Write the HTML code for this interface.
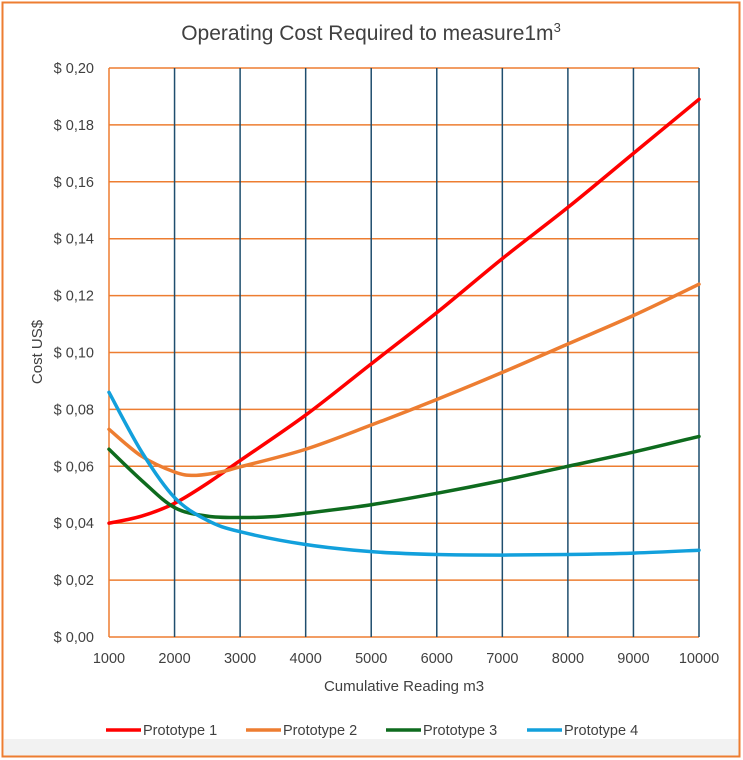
<!DOCTYPE html>
<html><head><meta charset="utf-8"><style>
html,body{margin:0;padding:0;background:#fff;}
svg{display:block;font-family:"Liberation Sans",sans-serif;}
</style></head><body>
<svg id="s" width="743" height="760" viewBox="0 0 743 760">
<rect x="0" y="0" width="743" height="760" fill="#fff"/>
<rect x="4" y="739" width="735" height="17" fill="#f2f2f2"/>
<rect x="2.5" y="2.5" width="737" height="754" fill="none" stroke="#ed7d31" stroke-width="2"/>
<text x="371" y="40" font-size="21" fill="#404040" text-anchor="middle">Operating Cost Required to measure1m<tspan font-size="13" dy="-8">3</tspan></text>
<g id="grid"></g>
<g id="lines" fill="none" stroke-width="3.5" stroke-linejoin="round" stroke-linecap="round"></g>
<text transform="translate(42,352) rotate(-90)" font-size="15" fill="#404040" text-anchor="middle">Cost US$</text>
<text x="404" y="691" font-size="15" fill="#404040" text-anchor="middle">Cumulative Reading m3</text>
<g font-size="14.5" fill="#404040">
<line x1="106" y1="730" x2="141" y2="730" stroke="#ff0000" stroke-width="3.5"/><text x="143" y="735">Prototype 1</text>
<line x1="246" y1="730" x2="281" y2="730" stroke="#ed7d31" stroke-width="3.5"/><text x="283" y="735">Prototype 2</text>
<line x1="386" y1="730" x2="421" y2="730" stroke="#0e6b1e" stroke-width="3.5"/><text x="423" y="735">Prototype 3</text>
<line x1="527" y1="730" x2="562" y2="730" stroke="#12a0dc" stroke-width="3.5"/><text x="564" y="735">Prototype 4</text>
</g>
</svg>
<script>
var L=109,R=699,T=68,B=637,NS="http://www.w3.org/2000/svg";
function X(v){return L+(v-1000)/9000*(R-L);}
function Y(v){return B-v/0.2*(B-T);}
function el(p,t,a,txt){var e=document.createElementNS(NS,t);for(var k in a)e.setAttribute(k,a[k]);if(txt!=null)e.textContent=txt;p.appendChild(e);return e;}
var g=document.getElementById('grid');
for(var i=0;i<=10;i++){var y=Y(i*0.02);el(g,'line',{x1:L,x2:R,y1:y,y2:y,stroke:'#ed7d31','stroke-width':1.5});
el(g,'text',{x:94,y:y+5,'font-size':14.5,fill:'#404040','text-anchor':'end'},'$ 0,'+(i*2<10?'0':'')+(i*2));}
for(var v=2000;v<=10000;v+=1000){var x=X(v);el(g,'line',{x1:x,x2:x,y1:T,y2:B,stroke:'#1f4e6e','stroke-width':1.5});}
el(g,'line',{x1:L,x2:L,y1:T,y2:B,stroke:'#ed7d31','stroke-width':1.5});
for(var v=1000;v<=10000;v+=1000)el(g,'text',{x:X(v),y:663,'font-size':14.5,fill:'#404040','text-anchor':'middle'},v);
var D=[
['#ff0000',[[1000,.040],[1500,.0425],[2000,.047],[2500,.054],[3000,.062],[4000,.078],[5000,.096],[6000,.114],[7000,.133],[8000,.151],[9000,.170],[10000,.189]]],
['#ed7d31',[[1000,.073],[1500,.0635],[2000,.058],[2300,.0568],[2700,.058],[3000,.0598],[4000,.066],[5000,.0745],[6000,.0835],[7000,.093],[8000,.103],[9000,.113],[10000,.124]]],
['#0e6b1e',[[1000,.066],[1500,.055],[2000,.0455],[2500,.0425],[3000,.042],[3500,.0423],[4000,.0435],[5000,.0465],[6000,.0505],[7000,.055],[8000,.060],[9000,.065],[10000,.0705]]],
['#12a0dc',[[1000,.086],[1500,.065],[2000,.049],[2500,.041],[3000,.037],[4000,.0325],[5000,.030],[6000,.029],[7000,.0288],[8000,.029],[9000,.0295],[10000,.0305]]]];
var lg=document.getElementById('lines');
D.forEach(function(s){var p=s[1].map(function(q){return [X(q[0]),Y(q[1])];});
var d='M'+p[0][0]+','+p[0][1];
for(var i=0;i<p.length-1;i++){var p0=p[i-1]||p[i],p1=p[i],p2=p[i+1],p3=p[i+2]||p2;
d+=' C'+(p1[0]+(p2[0]-p0[0])/6)+','+(p1[1]+(p2[1]-p0[1])/6)+' '+(p2[0]-(p3[0]-p1[0])/6)+','+(p2[1]-(p3[1]-p1[1])/6)+' '+p2[0]+','+p2[1];}
el(lg,'path',{d:d,stroke:s[0]});});
</script>
</body></html>
